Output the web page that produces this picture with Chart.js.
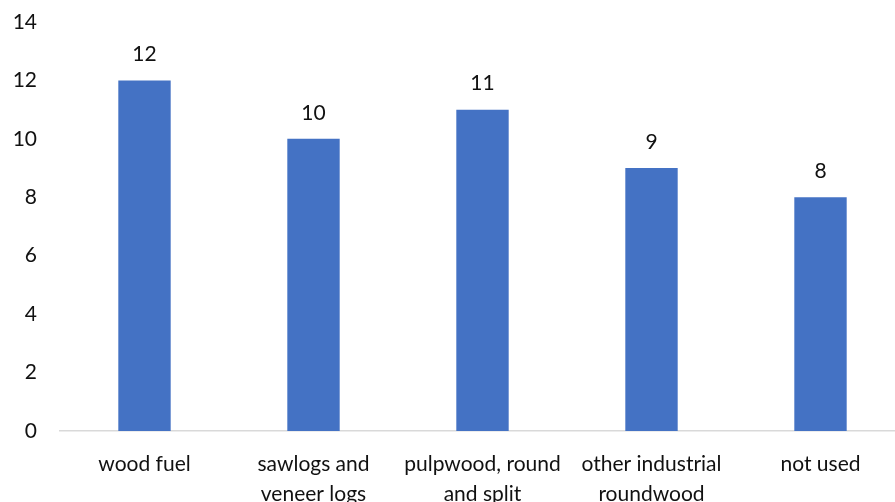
<!DOCTYPE html>
<html>
<head>
<meta charset="utf-8">
<script src="https://cdn.jsdelivr.net/npm/chart.js@4/dist/chart.umd.min.js"></script>
<style>
  html, body { margin: 0; padding: 0; background: #fff; overflow: hidden; }
  #wrap { width: 905px; height: 502px; position: relative; }
</style>
</head>
<body>
<div id="wrap"><canvas id="myChart"></canvas></div>
<script>
const categories = [
  'wood fuel',
  ['sawlogs and', 'veneer logs'],
  ['pulpwood, round', 'and split'],
  ['other industrial', 'roundwood'],
  'not used'
];
const values = [12, 10, 11, 9, 8];
const yTicks = { min: 0, max: 14, step: 2 };

const textColor = '#111';
const fontFamily = 'Lato, "Open Sans", sans-serif';

// value above each bar
const valueLabels = {
  id: 'valueLabels',
  afterDatasetsDraw(chart) {
    const { ctx } = chart;
    const meta = chart.getDatasetMeta(0);
    ctx.save();
    ctx.font = `21px ${fontFamily}`;
    ctx.fillStyle = textColor;
    ctx.textAlign = 'center';
    ctx.textBaseline = 'middle';
    meta.data.forEach((bar, i) => {
      ctx.fillText(String(values[i]), bar.x, bar.y - 26);
    });
    ctx.restore();
  }
};

new Chart('myChart', {
  type: 'bar',
  data: {
    labels: categories,
    datasets: [{
      data: values,
      backgroundColor: '#4472C4',
      categoryPercentage: 1,
      barPercentage: 0.31
    }]
  },
  options: {
    responsive: true,
    maintainAspectRatio: false,
    animation: false,
    layout: { padding: { top: 22, left: 0, right: 0, bottom: 0 } },
    plugins: {
      legend: { display: false },
      tooltip: { enabled: false }
    },
    scales: {
      x: {
        grid: { display: false },
        border: { color: '#d9d9d9', width: 1.5 },
        ticks: {
          color: textColor,
          font: { family: fontFamily, size: 21, lineHeight: 1.4 },
          padding: 11,
          maxRotation: 0,
          autoSkip: false
        },
        afterFit: (scale) => { scale.height = 71; }
      },
      y: {
        min: yTicks.min,
        max: yTicks.max,
        grid: { display: false },
        border: { display: false },
        ticks: {
          stepSize: yTicks.step,
          color: textColor,
          font: { family: fontFamily, size: 21 },
          padding: 15
        },
        afterFit: (scale) => {
          scale.width = 60;
          scale.paddingTop = 0;
        }
      }
    }
  },
  plugins: [valueLabels]
});
</script>
</body>
</html>
